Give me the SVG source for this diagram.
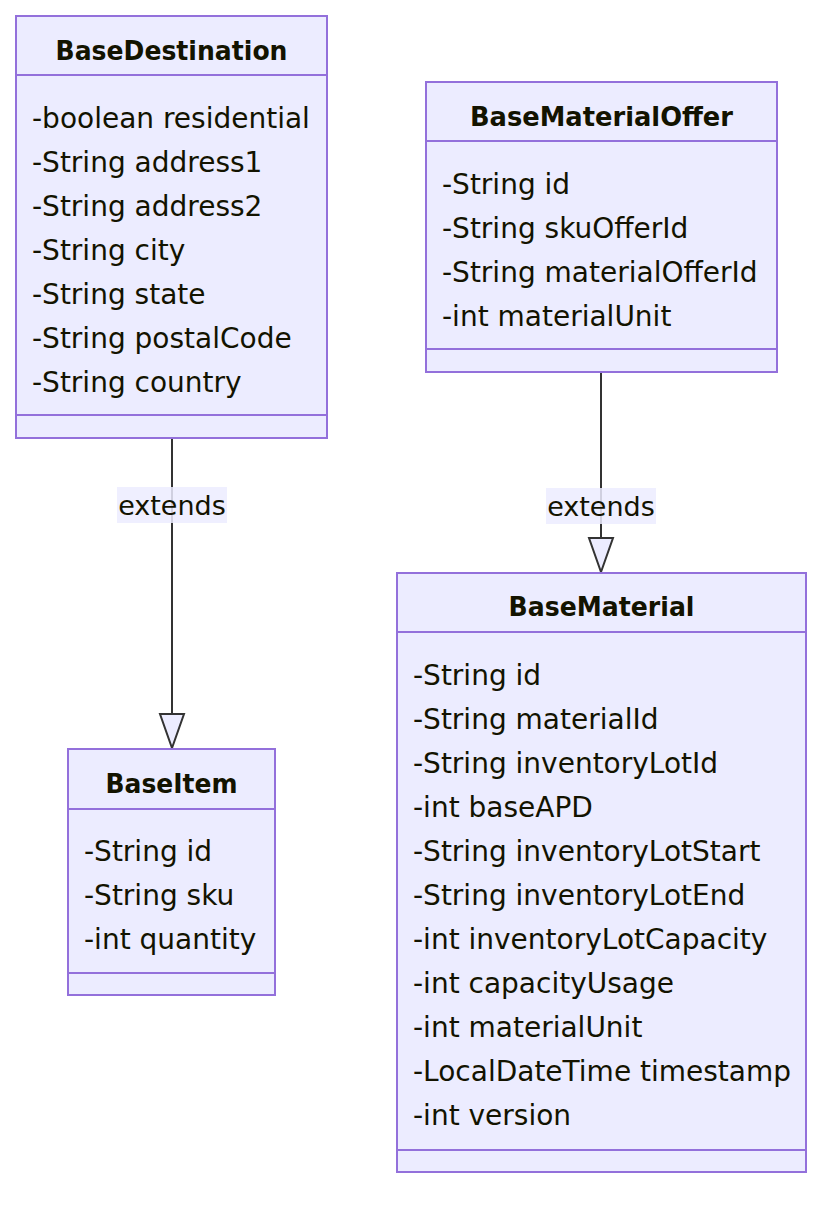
<svg xmlns="http://www.w3.org/2000/svg" width="838" height="1210" viewBox="0 0 838 1210">
<style>
.box{fill:#ececff;stroke:#9370db;stroke-width:2}
.div{stroke:#9370db;stroke-width:2}
.t{font-family:"DejaVu Sans",Verdana,sans-serif;font-size:28px;fill:#131300}
.h{font-weight:bold;text-anchor:middle;font-size:27px}
.e{font-size:27px;text-anchor:middle}
.edge{stroke:#333;stroke-width:2;fill:none}
.lbl{fill:#ececff;opacity:0.85}
.arr{fill:#ececff;stroke:#333;stroke-width:2}
</style>
<rect width="838" height="1210" fill="#fff"/>
<g id="connectors">
<line class="edge" x1="172" y1="438" x2="172" y2="714"/>
<polygon class="arr" points="160,714 184,714 172,748"/>
<rect class="lbl" x="117" y="487" width="110" height="36"/>
<text class="t e" x="172" y="515">extends</text>
<line class="edge" x1="601" y1="372" x2="601" y2="538"/>
<polygon class="arr" points="589,538 613,538 601,572"/>
<rect class="lbl" x="546" y="488" width="110" height="36"/>
<text class="t e" x="601" y="516">extends</text>
</g>
<g id="BaseDestination">
<rect class="box" x="16" y="16" width="311" height="422"/>
<line class="div" x1="16" y1="75" x2="327" y2="75"/>
<line class="div" x1="16" y1="415" x2="327" y2="415"/>
<text class="t h" x="171.5" y="60" textLength="232" lengthAdjust="spacingAndGlyphs">BaseDestination</text>
<text class="t" x="32" y="128">-boolean residential</text>
<text class="t" x="32" y="172">-String address1</text>
<text class="t" x="32" y="216">-String address2</text>
<text class="t" x="32" y="260">-String city</text>
<text class="t" x="32" y="304">-String state</text>
<text class="t" x="32" y="348">-String postalCode</text>
<text class="t" x="32" y="392">-String country</text>
</g>
<g id="BaseMaterialOffer">
<rect class="box" x="426" y="82" width="351" height="290"/>
<line class="div" x1="426" y1="141" x2="777" y2="141"/>
<line class="div" x1="426" y1="349" x2="777" y2="349"/>
<text class="t h" x="601.5" y="126" textLength="263" lengthAdjust="spacingAndGlyphs">BaseMaterialOffer</text>
<text class="t" x="442" y="194">-String id</text>
<text class="t" x="442" y="238">-String skuOfferId</text>
<text class="t" x="442" y="282">-String materialOfferId</text>
<text class="t" x="442" y="326">-int materialUnit</text>
</g>
<g id="BaseMaterial">
<rect class="box" x="397" y="573" width="409" height="599"/>
<line class="div" x1="397" y1="632" x2="806" y2="632"/>
<line class="div" x1="397" y1="1150" x2="806" y2="1150"/>
<text class="t h" x="601.5" y="616" textLength="186" lengthAdjust="spacingAndGlyphs">BaseMaterial</text>
<text class="t" x="413" y="685">-String id</text>
<text class="t" x="413" y="729">-String materialId</text>
<text class="t" x="413" y="773">-String inventoryLotId</text>
<text class="t" x="413" y="817">-int baseAPD</text>
<text class="t" x="413" y="861">-String inventoryLotStart</text>
<text class="t" x="413" y="905">-String inventoryLotEnd</text>
<text class="t" x="413" y="949">-int inventoryLotCapacity</text>
<text class="t" x="413" y="993">-int capacityUsage</text>
<text class="t" x="413" y="1037">-int materialUnit</text>
<text class="t" x="413" y="1081">-LocalDateTime timestamp</text>
<text class="t" x="413" y="1125">-int version</text>
</g>
<g id="BaseItem">
<rect class="box" x="68" y="749" width="207" height="246"/>
<line class="div" x1="68" y1="809" x2="275" y2="809"/>
<line class="div" x1="68" y1="973" x2="275" y2="973"/>
<text class="t h" x="171.5" y="793" textLength="132" lengthAdjust="spacingAndGlyphs">BaseItem</text>
<text class="t" x="84" y="861">-String id</text>
<text class="t" x="84" y="905">-String sku</text>
<text class="t" x="84" y="949">-int quantity</text>
</g>
</svg>
